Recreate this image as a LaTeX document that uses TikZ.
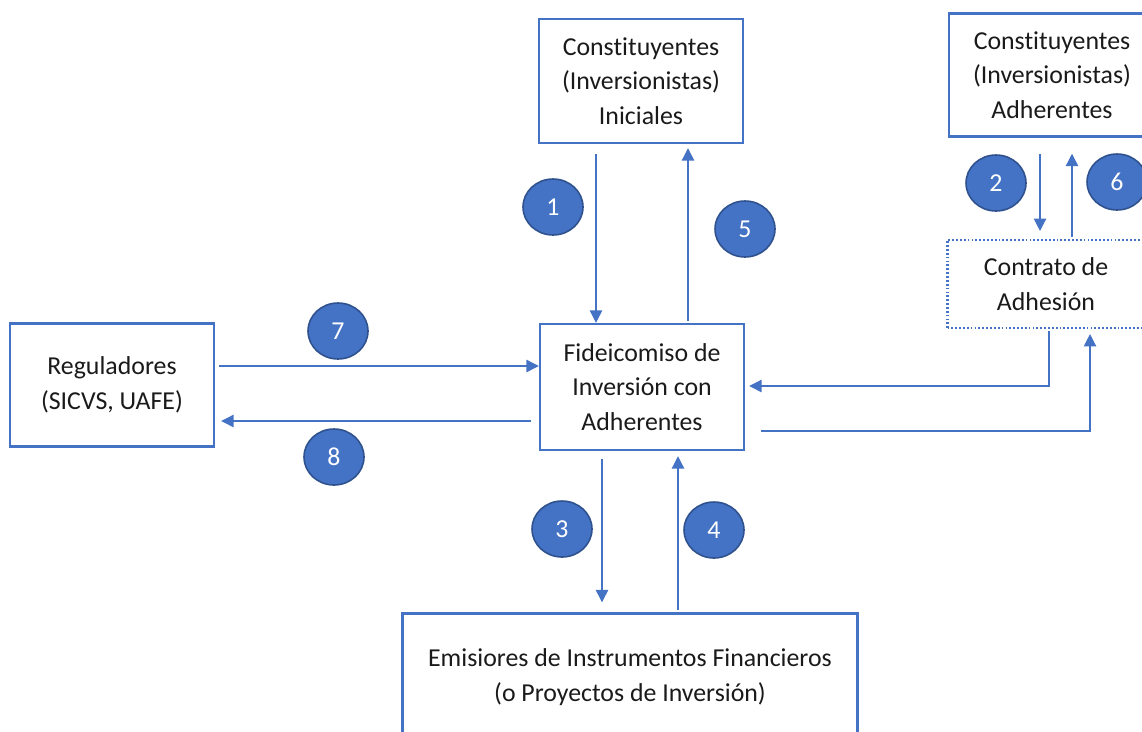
\documentclass[tikz,border=0pt]{standalone}
\usepackage{fontspec}
\setsansfont{Carlito}[Ligatures=CommonOff]
\usetikzlibrary{arrows.meta,shapes.geometric,calc}
\definecolor{boxblue}{HTML}{4472C4}
\definecolor{ringblue}{HTML}{2F528F}
\definecolor{textdark}{HTML}{1A1A1A}

\begin{document}
\begin{tikzpicture}[x=0.02cm, y=-0.02cm, font=\sffamily\fontsize{14.7}{19.6}\selectfont, >={Triangle[length=7pt,width=7pt]},
    actor/.style={draw=boxblue, line width=1.4pt, align=center, text=textdark, inner sep=0pt},
    contract/.style={actor, line width=1.2pt, dash pattern=on 1pt off 1.2pt},
    flow/.style={->, draw=boxblue, line width=0.7pt},
    stepnum/.style={ellipse, draw=ringblue, fill=boxblue, line width=0.9pt, text=white, minimum width=1.2cm, minimum height=1.12cm, inner sep=0pt}]

    \useasboundingbox (0,0) rectangle (1142,731);

    % Boxes
    \node[actor, minimum width=4.08cm, minimum height=2.48cm] (ini) at (641,81) {Constituyentes\\(Inversionistas)\\Iniciales};
    \node[actor, minimum width=4.12cm, minimum height=2.46cm] (adh) at (1052,75) {Constituyentes\\(Inversionistas)\\Adherentes};
    \node[contract, minimum width=3.94cm, minimum height=1.76cm] (con) at (1046,284) {Contrato de\\Adhesión};
    \node[actor, minimum width=4.08cm, minimum height=2.46cm] (reg) at (112,385) {Reguladores\\(SICVS, UAFE)};
    \node[actor, minimum width=4.08cm, minimum height=2.52cm] (main) at (642,387) {Fideicomiso de\\Inversión con\\Adherentes};
    \node[actor, minimum width=9.1cm, minimum height=2.54cm] (bot) at (630,677) {Emisiores de Instrumentos Financieros\\(o Proyectos de Inversión)};

    % Flows
    \draw[flow] ($(ini.south)+(-45,10)$) coordinate (a1) -- (a1 |- main.north);
    \draw[flow] ($(main.north)+(46,-2)$) coordinate (a5) -- ($(a5 |- ini.south)+(0,4)$);
    \draw[flow] ($(reg.east)+(4,-19)$) coordinate (a7) -- (a7 -| main.west);
    \draw[flow] ($(main.west)+(-8,34)$) coordinate (a8) -- ($(a8 -| reg.east)+(6,0)$);
    \draw[flow] ($(main.south)+(-40,8)$) coordinate (a3) -- ($(a3 |- bot.north)+(0,-10)$);
    \draw[flow] ($(main.south)+(36,0)$) coordinate (a4) ++(0,159) -- ($(a4)+(0,5)$);
    \draw[flow] ($(adh.south)+(-12,16)$) coordinate (a2) -- ($(a2 |- con.north)+(0,-8)$);
    \draw[flow] ($(adh.south)+(20,0)$) coordinate (a6) ++(0,99) -- ($(a6)+(0,16)$);
    \draw[flow] ($(con.south)+(3,2)$) |- ($(main.east)+(4,-1)$);
    \draw[flow] ($(main.east)+(16,44)$) -| ($(con.south)+(44,5)$);

    % Step numbers
    \node[stepnum] (c1) at (553,207) {1};
    \node[stepnum] (c2) at (996,183) {2};
    \node[stepnum] (c3) at (562,529) {3};
    \node[stepnum] (c4) at (714,530) {4};
    \node[stepnum] (c5) at (745,229) {5};
    \node[stepnum] (c6) at (1117,182) {6};
    \node[stepnum] (c7) at (338,331) {7};
    \node[stepnum] (c8) at (334,457) {8};

\end{tikzpicture}
\end{document}
